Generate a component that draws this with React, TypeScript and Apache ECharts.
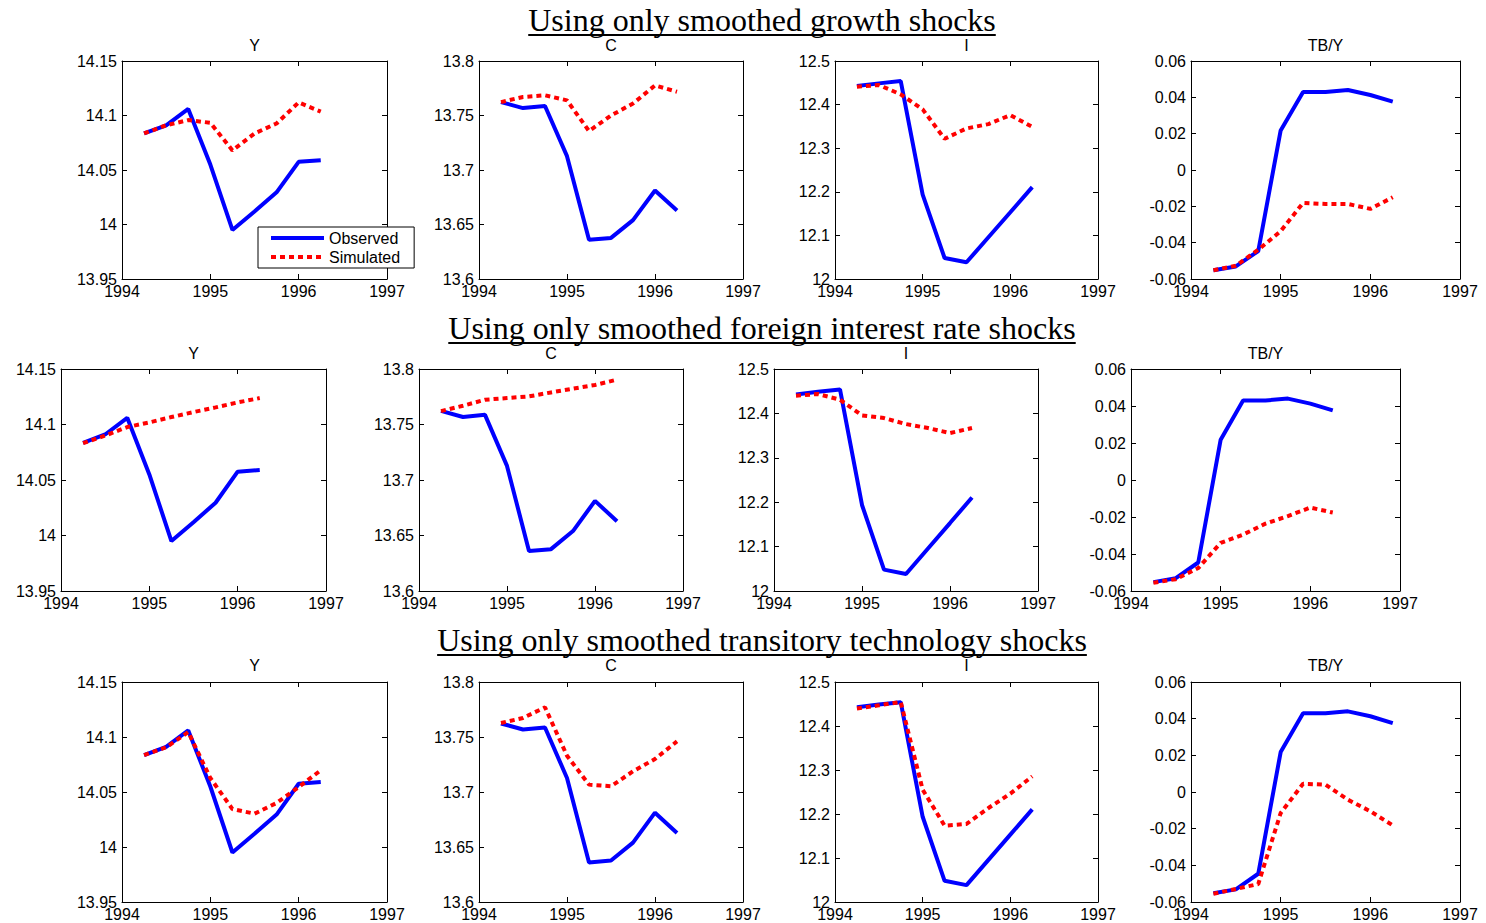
import React, { useEffect, useRef } from 'react';
import * as echarts from 'echarts';

// ---- data ----
const quarters = [1994.25, 1994.5, 1994.75, 1995, 1995.25, 1995.5, 1995.75, 1996, 1996.25];

const obsY = [14.0835, 14.091, 14.106, 14.055, 13.995, 14.012, 14.0295, 14.0575, 14.059];
const obsC = [13.7623, 13.7568, 13.7587, 13.7127, 13.636, 13.6377, 13.654, 13.6812, 13.6628];
const obsI = [12.4426, 12.4487, 12.454, 12.1937, 12.0482, 12.0383, 12.0957, 12.153, 12.2106];
const obsTB = [-0.0552, -0.0531, -0.0446, 0.0218, 0.043, 0.043, 0.044, 0.0413, 0.0376];

const simGrowthY = [14.0835, 14.091, 14.0958, 14.0933, 14.068, 14.0835, 14.0927, 14.112, 14.1035];
const simGrowthC = [13.7623, 13.767, 13.7685, 13.7639, 13.7357, 13.75, 13.761, 13.7776, 13.7718];
const simGrowthI = [12.441, 12.4449, 12.4234, 12.389, 12.3216, 12.3453, 12.3553, 12.376, 12.349];
const simGrowthTB = [-0.0552, -0.0527, -0.0439, -0.0337, -0.0181, -0.0187, -0.0187, -0.0214, -0.015];

const simRateY = [14.0832, 14.09, 14.0977, 14.1019, 14.1067, 14.1112, 14.1154, 14.1199, 14.1238];
const simRateC = [13.7621, 13.7669, 13.7723, 13.7738, 13.7753, 13.7789, 13.7823, 13.7856, 13.7904];
const simRateI = [12.4398, 12.4436, 12.4308, 12.3955, 12.3895, 12.376, 12.367, 12.3556, 12.367];
const simRateTB = [-0.0555, -0.0536, -0.0476, -0.034, -0.0295, -0.0236, -0.0195, -0.0149, -0.0176];

const simTechY = [14.0836, 14.0906, 14.1045, 14.0627, 14.0345, 14.0303, 14.04, 14.0545, 14.0697];
const simTechC = [13.7627, 13.7673, 13.777, 13.733, 13.7067, 13.7052, 13.7188, 13.73, 13.746];
const simTechI = [12.44, 12.447, 12.4545, 12.2553, 12.1735, 12.1773, 12.2136, 12.2462, 12.2856];
const simTechTB = [-0.0555, -0.0529, -0.0502, -0.0115, 0.0045, 0.004, -0.0042, -0.0105, -0.0182];

const sectionTitles = [
  'Using only smoothed growth shocks',
  'Using only smoothed foreign interest rate shocks',
  'Using only smoothed transitory technology shocks',
];
const panelTitles = ['Y', 'C', 'I', 'TB/Y'];
const seriesNames = ['Observed', 'Simulated'];
const yMin = [13.95, 13.6, 12, -0.06];
const yMax = [14.15, 13.8, 12.5, 0.06];
const yStep = [0.05, 0.05, 0.1, 0.02];
const xMin = 1994;
const xMax = 1997;
const xStep = 1;

const observed = [obsY, obsC, obsI, obsTB];
const simulated = [
  [simGrowthY, simGrowthC, simGrowthI, simGrowthTB],
  [simRateY, simRateC, simRateI, simRateTB],
  [simTechY, simTechC, simTechI, simTechTB],
];

// ---- layout ----
const rowTop = [61, 369, 682];
const rowBottom = [279, 591, 902];
const colLeft = [
  [122, 479, 835, 1191],
  [61, 419, 774, 1131],
  [122, 479, 835, 1191],
];
const colRight = [
  [387, 743, 1098, 1460],
  [326, 683, 1038, 1400],
  [387, 743, 1098, 1460],
];
const sectionTitleY = [20, 328, 640];
const underlineY = [35, 343, 655];
const panelTitleY = [45, 353, 665.5];

const SANS = "'Liberation Sans', Arial, Helvetica, sans-serif";
const SERIF = "'Liberation Serif', 'Times New Roman', serif";

function measure(text: string, font: string): number {
  const c = document.createElement('canvas');
  const ctx = c.getContext('2d');
  if (!ctx) return text.length * 14;
  ctx.font = font;
  return ctx.measureText(text).width;
}

function buildOption() {
  const grid: any[] = [];
  const xAxis: any[] = [];
  const yAxis: any[] = [];
  const series: any[] = [];
  const graphic: any[] = [];

  const axisLine = { show: true, onZero: false, lineStyle: { color: '#000', width: 1 } };
  const axisTick = { show: true, inside: true, length: 5, lineStyle: { color: '#000', width: 1 } };

  for (let r = 0; r < 3; r++) {
    const titleFont = `32px ${SERIF}`;
    const w = measure(sectionTitles[r], titleFont);
    graphic.push({
      type: 'text',
      x: 762,
      y: sectionTitleY[r],
      style: {
        text: sectionTitles[r],
        font: titleFont,
        fill: '#000',
        align: 'center',
        verticalAlign: 'middle',
      },
    });
    graphic.push({
      type: 'line',
      shape: { x1: 762 - w / 2, y1: underlineY[r], x2: 762 + w / 2, y2: underlineY[r] },
      style: { stroke: '#000', lineWidth: 2 },
    });

    for (let c = 0; c < 4; c++) {
      const gi = r * 4 + c;
      const L = colLeft[r][c];
      const R = colRight[r][c];
      const T = rowTop[r];
      const B = rowBottom[r];
      grid.push({ left: L, top: T, width: R - L, height: B - T, show: false });

      graphic.push({
        type: 'text',
        x: (L + R) / 2,
        y: panelTitleY[r],
        style: {
          text: panelTitles[c],
          font: `16px ${SANS}`,
          fill: '#000',
          align: 'center',
          verticalAlign: 'middle',
        },
      });

      xAxis.push({
        type: 'value',
        gridIndex: gi,
        position: 'bottom',
        min: xMin,
        max: xMax,
        interval: xStep,
        axisLine,
        axisTick,
        splitLine: { show: false },
        axisLabel: {
          show: true,
          color: '#000',
          fontSize: 16,
          fontFamily: SANS,
          margin: 4,
          formatter: (v: number) => String(v),
        },
      });
      xAxis.push({
        type: 'value',
        gridIndex: gi,
        position: 'top',
        min: xMin,
        max: xMax,
        interval: xStep,
        axisLine,
        axisTick,
        splitLine: { show: false },
        axisLabel: { show: false },
      });
      yAxis.push({
        type: 'value',
        gridIndex: gi,
        position: 'left',
        min: yMin[c],
        max: yMax[c],
        interval: yStep[c],
        axisLine,
        axisTick,
        splitLine: { show: false },
        axisLabel: {
          show: true,
          color: '#000',
          fontSize: 16,
          fontFamily: SANS,
          margin: 5,
        },
      });
      yAxis.push({
        type: 'value',
        gridIndex: gi,
        position: 'right',
        min: yMin[c],
        max: yMax[c],
        interval: yStep[c],
        axisLine,
        axisTick,
        splitLine: { show: false },
        axisLabel: { show: false },
      });

      series.push({
        type: 'line',
        name: seriesNames[0],
        xAxisIndex: 2 * gi,
        yAxisIndex: 2 * gi,
        data: quarters.map((q, i) => [q, observed[c][i]]),
        symbol: 'none',
        showSymbol: false,
        lineStyle: { color: '#0000ff', width: 4 },
        itemStyle: { color: '#0000ff' },
        z: 2,
      });
      series.push({
        type: 'line',
        name: seriesNames[1],
        xAxisIndex: 2 * gi,
        yAxisIndex: 2 * gi,
        data: quarters.map((q, i) => [q, simulated[r][c][i]]),
        symbol: 'none',
        showSymbol: false,
        lineStyle: { color: '#ff0000', width: 4, type: [5, 4] },
        itemStyle: { color: '#ff0000' },
        z: 3,
      });
    }
  }

  return {
    animation: false,
    backgroundColor: '#fff',
    grid,
    xAxis,
    yAxis,
    series,
    graphic,
    legend: {
      data: seriesNames,
      orient: 'vertical',
      left: 258,
      top: 227,
      padding: [3, 14, 3, 11],
      itemGap: 3,
      itemWidth: 53,
      itemHeight: 14,
      borderColor: '#000',
      borderWidth: 1,
      borderRadius: 0,
      backgroundColor: '#fff',
      selectedMode: false,
      textStyle: { fontSize: 16, color: '#000', fontFamily: SANS },
      itemStyle: { opacity: 0 },
      lineStyle: { width: 4 },
      z: 10,
    },
  };
}

export default function App() {
  const ref = useRef<HTMLDivElement>(null);
  useEffect(() => {
    if (!ref.current) return;
    const chart = echarts.init(ref.current, undefined, { renderer: 'svg' });
    chart.setOption(buildOption());
    return () => chart.dispose();
  }, []);
  return (
    <div
      ref={ref}
      style={{ position: 'absolute', left: 0, top: 0, width: 1486, height: 923, background: '#fff' }}
    />
  );
}
